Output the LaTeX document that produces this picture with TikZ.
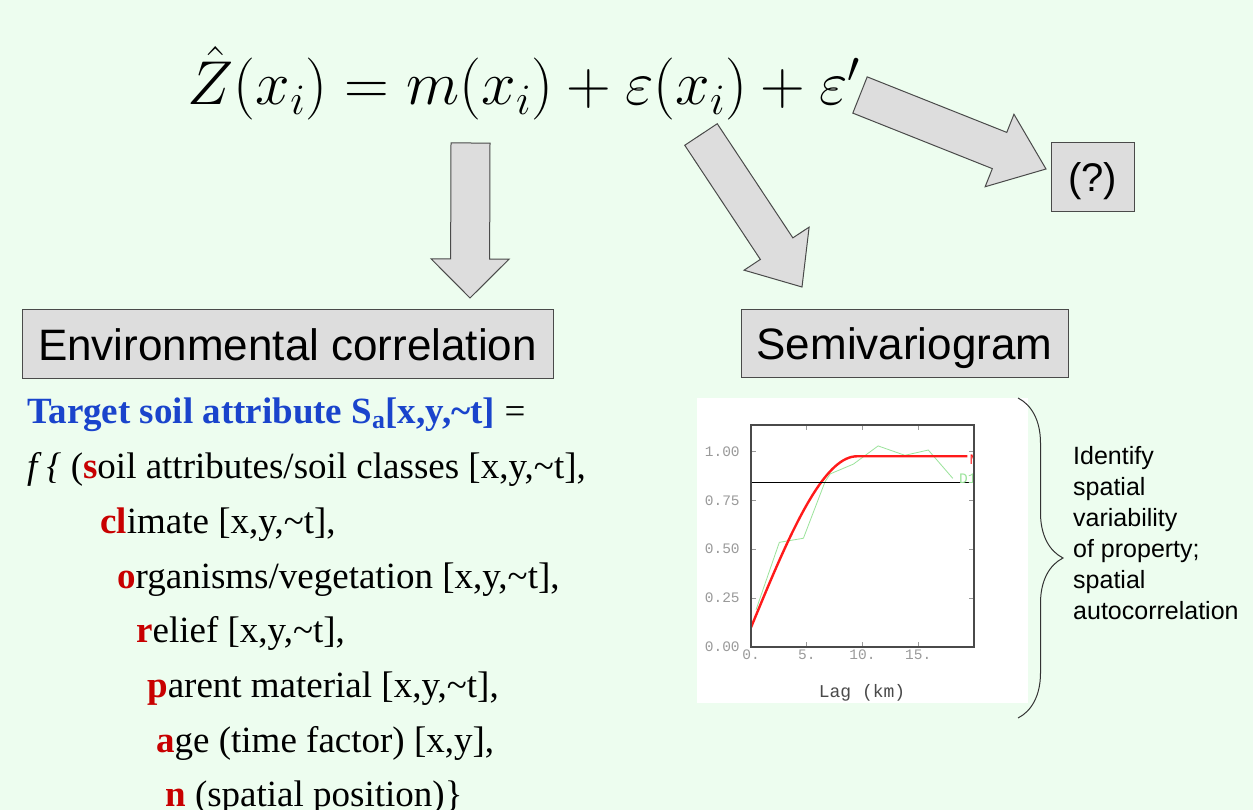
\RequirePackage{fix-cm}
\documentclass[tikz,border=0pt]{standalone}
\usepackage{fontspec}
\setmainfont{Liberation Serif}
\setsansfont{Liberation Sans}
\setmonofont{Liberation Mono}
\usetikzlibrary{calc, decorations.pathreplacing}
\definecolor{fondo}{HTML}{EDFDEF}
\definecolor{caja}{HTML}{DDDDDD}
\definecolor{borde}{HTML}{4A4A4A}
\definecolor{azul}{HTML}{1A44CC}
\definecolor{rojo}{HTML}{C80000}
\definecolor{curva}{HTML}{FF1A1A}
\definecolor{datos}{HTML}{9BE39B}
\definecolor{eje}{HTML}{9A9A9A}

\newcommand{\rl}[1]{\textcolor{rojo}{\textbf{#1}}}
% fat arrow from tail #1 to tip #2, head length #3
\newcommand{\blockarrow}[3]{%
  \coordinate (hb) at ($(#2)!#3!(#1)$);
  \draw[fatarrow] ($(#1)!19.5pt!90:(#2)$) -- ($(hb)!19.5pt!90:(#2)$)
    -- ($(hb)!39pt!90:(#2)$) -- (#2) -- ($(hb)!39pt!-90:(#2)$)
    -- ($(hb)!19.5pt!-90:(#2)$) -- ($(#1)!19.5pt!-90:(#2)$) -- cycle;}

\begin{document}
\begin{tikzpicture}[
      x=1pt, y=-1pt,
      box/.style={draw=borde, fill=caja, line width=1pt, inner sep=0pt,
                  font=\sffamily\fontsize{44}{44}\selectfont,
                  text height=32pt, text depth=0pt},
      fatarrow/.style={draw=borde, fill=caja, line width=1pt, line join=miter},
      fline/.style={anchor=base west, inner sep=0pt,
                    font=\fontsize{37}{37}\selectfont},
      ticklbl/.style={eje, inner sep=0pt, font=\ttfamily\fontsize{14.5}{14.5}\selectfont} ]

    \clip (0,0) rectangle (1253,810);
    \fill[fondo] (0,0) rectangle (1253,810);

    % equation
    \node[anchor=base, inner sep=0pt, font=\fontsize{62}{62}\selectfont] (eq) at (524,105)
      {$\hat{Z}(x_i)=m(x_i)+\varepsilon(x_i)+\varepsilon'$};

    % boxes
    \node[box, minimum width=531pt, minimum height=68pt] (env) at (287.5,344)
      {Environmental correlation};
    \node[box, minimum width=327pt, minimum height=68pt] (semi) at (904.5,343.5)
      {Semivariogram};
    \node[box, minimum width=83pt, minimum height=69pt,
          font=\sffamily\fontsize{40}{40}\selectfont, text height=29pt] (unk) at (1092.5,177.5) {(?)};

    % fat arrows
    \coordinate (t1) at (470.5,143);  \coordinate (p1) at (470,298);
    \coordinate (t2) at (701,134.5);  \coordinate (p2) at (802,287);
    \coordinate (t3) at (860,95);     \coordinate (p3) at (1046,169);
    \blockarrow{t1}{p1}{39pt}
    \blockarrow{t2}{p2}{46pt}
    \blockarrow{t3}{p3}{50pt}

    % soil forming factors
    \node[fline] (tgt) at (27,423)
      {\textcolor{azul}{\textbf{Target soil attribute S\textsubscript{a}[x,y,\textasciitilde t]}} =};
    \node[fline] (fs) at (27,478)
      {\textit{f \{} (\rl{s}oil attributes/soil classes [x,y,\textasciitilde t],};
    \node[fline] (fcl) at (100,533) {\rl{cl}imate [x,y,\textasciitilde t],};
    \node[fline] (fo) at (117,588) {\rl{o}rganisms/vegetation [x,y,\textasciitilde t],};
    \node[fline] (fr) at (136,642) {\rl{r}elief [x,y,\textasciitilde t],};
    \node[fline] (fp) at (147,697) {\rl{p}arent material [x,y,\textasciitilde t],};
    \node[fline] (fa) at (156,752) {\rl{a}ge (time factor) [x,y],};
    \node[fline] (fn) at (165,806) {\rl{n} (spatial position)\}};

    % semivariogram plot
    \fill[white] (697,398) rectangle (1028,703);
    \begin{scope}[shift={(751,647)}, x=11.15pt, y=195.6pt]
      \begin{scope}
        \clip (0,0) rectangle (20,1.135);
        \draw[datos, line width=0.8pt] (0.45,0.19) -- (2.54,0.535) -- (4.7,0.556)
          -- (6.64,0.845) -- (7.1,0.885) -- (9.18,0.935) -- (11.4,1.028)
          -- (13.8,0.98) -- (15.9,1.007) -- (18.1,0.862);
        \draw[curva, line width=2.4pt] plot[domain=0:9.5, samples=40, smooth]
          (\x, {0.1+0.875*(1.5*\x/9.5-0.5*(\x/9.5)^3)}) -- (19.4,0.975);
        \draw[black, line width=1.1pt] (0,0.842) -- (20,0.842);
        \node[anchor=west, inner sep=0pt, text=curva,
              font=\ttfamily\fontsize{14.5}{14.5}\selectfont] (mlbl) at (19.6,0.96) {M};
        \node[anchor=west, inner sep=0pt, text=datos,
              font=\ttfamily\fontsize{14.5}{14.5}\selectfont] (dlbl) at (18.65,0.862) {D1};
      \end{scope}
      \foreach \v in {0.25,0.5,0.75,1} {
        \draw[eje, line width=0.8pt] (0,\v) -- ++(5pt,0);
        \draw[eje, line width=0.8pt] (20,\v) -- ++(-5pt,0);
      }
      \foreach \u in {5,10,15} {
        \draw[eje, line width=0.8pt] (\u,0) -- ++(0,5pt);
        \draw[eje, line width=0.8pt] (\u,1.135) -- ++(0,-5pt);
      }
      \draw[borde, line width=1.5pt] (0,0) rectangle (20,1.135);
      \foreach \v/\t [count=\i] in {0/0.00, 0.25/0.25, 0.5/0.50, 0.75/0.75, 1/1.00}
        \node[ticklbl, anchor=east] (ylbl\i) at (-1,\v) {\t};
      \foreach \u/\t [count=\i] in {0/0., 5/5., 10/10., 15/15.}
        \node[ticklbl, anchor=north] (xlbl\i) at (\u,-0.015) {\t};
      \node[inner sep=0pt, text=borde, font=\ttfamily\fontsize{18}{18}\selectfont]
        (lag) at (9.96,-0.235) {Lag (km)};
    \end{scope}

    % brace and comment
    \coordinate (brtop) at (1018,398);
    \coordinate (brbot) at (1018,718);
    \draw[decorate, decoration={brace, amplitude=45pt}, line width=1pt, black!80]
      (brtop) -- (brbot);
    \node[anchor=north west, align=left, inner sep=0pt,
          font=\sffamily\fontsize{25}{31}\selectfont] (ident) at (1073,446)
      {Identify\\spatial\\variability\\of property;\\spatial\\autocorrelation};
  \end{tikzpicture}
\end{document}
